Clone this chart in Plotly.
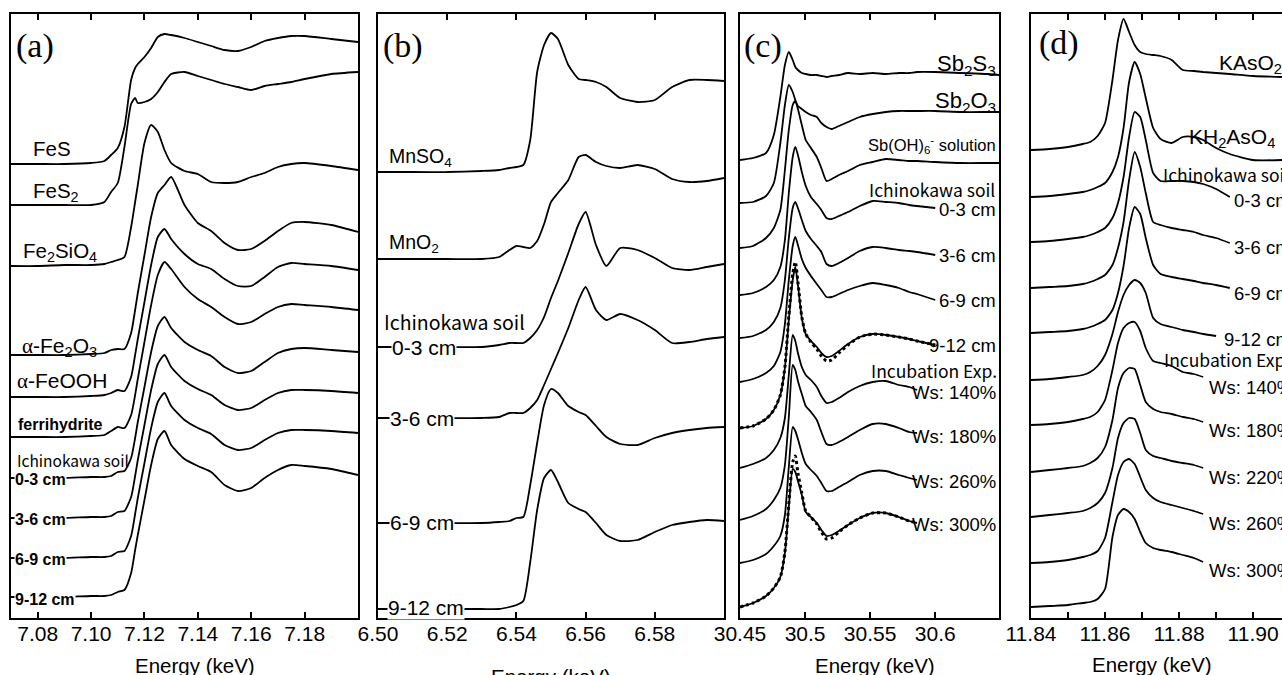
import plotly.graph_objects as go

# ---------------- data (normalized absorbance, offset for clarity) ----------------
# (a) Fe K-edge
a_energy = [7.070, 7.080, 7.090, 7.100, 7.105, 7.1075, 7.110, 7.1125, 7.115, 7.1165, 7.1175, 7.120, 7.1225, 7.125,
            7.1275, 7.130, 7.135, 7.140, 7.145, 7.150, 7.155, 7.160, 7.165, 7.170, 7.175, 7.180, 7.190, 7.200]
a_FeS = [4.54, 4.54, 4.54, 4.55, 4.57, 4.63, 4.70, 4.91, 5.38, 5.50, 5.54, 5.61, 5.70, 5.81, 5.84, 5.83, 5.80, 5.76,
         5.72, 5.68, 5.67, 5.71, 5.77, 5.80, 5.82, 5.82, 5.79, 5.76]
a_FeS2 = [4.13, 4.13, 4.13, 4.13, 4.16, 4.26, 4.35, 4.71, 5.14, 5.20, 5.15, 5.16, 5.19, 5.26, 5.36, 5.44, 5.46, 5.42,
          5.38, 5.34, 5.31, 5.28, 5.32, 5.34, 5.36, 5.39, 5.44, 5.46]
a_Fe2SiO4 = [3.52, 3.52, 3.53, 3.53, 3.54, 3.56, 3.58, 3.61, 3.91, 4.16, 4.33, 4.75, 4.93, 4.86, 4.68, 4.55, 4.47, 4.44,
             4.36, 4.35, 4.36, 4.41, 4.45, 4.51, 4.54, 4.55, 4.52, 4.48]
a_hematite = [2.63, 2.63, 2.63, 2.64, 2.65, 2.68, 2.69, 2.69, 2.85, 3.08, 3.25, 3.63, 4.01, 4.25, 4.33, 4.41, 4.13, 3.95,
              3.87, 3.75, 3.68, 3.69, 3.77, 3.87, 3.95, 3.96, 3.93, 3.86]
a_goethite = [2.21, 2.21, 2.21, 2.22, 2.23, 2.25, 2.28, 2.27, 2.41, 2.63, 2.79, 3.16, 3.53, 3.81, 3.89, 3.79, 3.64, 3.54,
              3.49, 3.39, 3.32, 3.32, 3.41, 3.51, 3.55, 3.54, 3.52, 3.48]
a_ferrihydrite = [1.81, 1.81, 1.81, 1.82, 1.83, 1.87, 1.91, 1.90, 2.03, 2.23, 2.39, 2.76, 3.13, 3.43, 3.56, 3.49, 3.31,
                  3.19, 3.11, 3.01, 2.94, 2.96, 3.04, 3.11, 3.14, 3.13, 3.11, 3.08]
a_soil_0_3 = [1.40, 1.40, 1.40, 1.41, 1.41, 1.42, 1.46, 1.47, 1.60, 1.80, 1.96, 2.31, 2.66, 2.92, 3.01, 2.90, 2.76, 2.68,
              2.62, 2.51, 2.45, 2.47, 2.56, 2.65, 2.69, 2.70, 2.68, 2.66]
a_soil_3_6 = [1.00, 1.00, 1.00, 1.01, 1.01, 1.02, 1.06, 1.07, 1.21, 1.42, 1.58, 1.93, 2.28, 2.54, 2.63, 2.51, 2.37, 2.29,
              2.23, 2.13, 2.08, 2.10, 2.18, 2.25, 2.28, 2.28, 2.27, 2.25]
a_soil_6_9 = [0.60, 0.60, 0.60, 0.61, 0.61, 0.62, 0.66, 0.67, 0.82, 1.04, 1.20, 1.55, 1.90, 2.16, 2.25, 2.12, 1.98, 1.90,
              1.84, 1.73, 1.68, 1.70, 1.78, 1.85, 1.88, 1.88, 1.87, 1.85]
a_soil_9_12 = [0.21, 0.21, 0.21, 0.22, 0.22, 0.23, 0.26, 0.28, 0.45, 0.68, 0.83, 1.18, 1.53, 1.79, 1.87, 1.73, 1.59, 1.52,
               1.46, 1.33, 1.27, 1.30, 1.40, 1.48, 1.53, 1.52, 1.49, 1.43]

# (b) Mn K-edge
b_energy = [6.500, 6.510, 6.520, 6.530, 6.535, 6.538, 6.540, 6.542, 6.544, 6.546, 6.548, 6.550, 6.552, 6.555, 6.558,
            6.560, 6.563, 6.566, 6.570, 6.575, 6.580, 6.585, 6.590, 6.595, 6.600]
b_MnSO4 = [4.46, 4.46, 4.46, 4.47, 4.48, 4.50, 4.51, 4.53, 4.78, 5.46, 5.73, 5.85, 5.79, 5.53, 5.39, 5.38, 5.36, 5.31,
           5.20, 5.16, 5.18, 5.31, 5.38, 5.38, 5.37]
b_MnO2 = [3.59, 3.59, 3.59, 3.59, 3.61, 3.68, 3.72, 3.71, 3.70, 3.77, 3.94, 4.16, 4.25, 4.38, 4.61, 4.63, 4.56, 4.52,
          4.50, 4.53, 4.49, 4.39, 4.36, 4.37, 4.40]
b_soil_0_3 = [2.71, 2.71, 2.71, 2.71, 2.73, 2.75, 2.75, 2.75, 2.80, 2.88, 3.01, 3.20, 3.37, 3.65, 3.94, 4.06, 3.73, 3.52,
              3.70, 3.68, 3.60, 3.50, 3.48, 3.51, 3.54]
b_soil_3_6 = [2.00, 2.00, 2.00, 2.00, 2.01, 2.05, 2.05, 2.05, 2.10, 2.18, 2.33, 2.49, 2.65, 2.90, 3.18, 3.31, 3.08, 2.98,
              3.04, 2.98, 2.88, 2.75, 2.76, 2.79, 2.81]
b_soil_6_9 = [0.95, 0.95, 0.95, 0.95, 0.96, 0.97, 1.00, 1.01, 1.33, 1.75, 2.13, 2.29, 2.25, 2.12, 2.06, 2.03, 1.92, 1.81,
              1.74, 1.73, 1.80, 1.85, 1.88, 1.90, 1.91]
b_soil_9_12 = [0.09, 0.09, 0.09, 0.09, 0.09, 0.11, 0.13, 0.17, 0.56, 1.08, 1.40, 1.48, 1.36, 1.15, 1.09, 1.06, 0.95, 0.83,
               0.77, 0.78, 0.86, 0.93, 0.96, 0.98, 0.97]

# (c) Sb K-edge
c_energy = [30.450, 30.460, 30.470, 30.476, 30.481, 30.4845, 30.4875, 30.4905, 30.4925, 30.4945, 30.4975, 30.5005,
            30.5045, 30.509, 30.5125, 30.5165, 30.5205, 30.526, 30.533, 30.542, 30.552, 30.562, 30.572, 30.580,
            30.586, 30.600, 30.620, 30.640, 30.649]
c_Sb2S3 = [4.58, 4.60, 4.65, 4.83, 5.21, 5.53, 5.66, 5.58, 5.51, 5.48, 5.45, 5.44, 5.43, 5.43, 5.42, 5.41, 5.42, 5.43,
           5.45, 5.44, 5.45, 5.44, 5.45, 5.45, 5.46, 5.46, 5.45, 5.44, 5.43]
c_Sb2O3 = [4.15, 4.16, 4.22, 4.35, 4.75, 5.13, 5.33, 5.26, 5.18, 5.12, 5.09, 5.06, 5.03, 5.01, 4.95, 4.91, 4.89, 4.92,
           4.96, 5.01, 5.04, 5.06, 5.07, 5.07, 5.07, 5.07, 5.06, 5.06, 5.06]
c_SbOH6 = [3.70, 3.72, 3.80, 3.90, 4.08, 4.48, 4.88, 5.13, 5.17, 5.09, 4.93, 4.78, 4.70, 4.61, 4.50, 4.37, 4.39, 4.43,
           4.47, 4.53, 4.56, 4.59, 4.58, 4.57, 4.57, 4.56, 4.55, 4.55, 4.55]
c_soil_0_3 = [3.23, 3.25, 3.31, 3.38, 3.51, 3.78, 4.25, 4.61, 4.71, 4.63, 4.46, 4.32, 4.21, 4.14, 4.08, 4.00, 3.99, 4.02,
              4.06, 4.12, 4.17, 4.16, 4.15, 4.13, 4.12, 4.10]
c_soil_3_6 = [2.80, 2.82, 2.88, 2.96, 3.10, 3.38, 3.80, 4.10, 4.16, 4.10, 3.98, 3.87, 3.79, 3.72, 3.66, 3.54, 3.52, 3.55,
              3.60, 3.67, 3.71, 3.70, 3.68, 3.67, 3.66, 3.63]
c_soil_6_9 = [2.36, 2.39, 2.45, 2.52, 2.66, 2.94, 3.38, 3.72, 3.81, 3.73, 3.59, 3.50, 3.42, 3.34, 3.28, 3.21, 3.21, 3.24,
              3.28, 3.32, 3.35, 3.33, 3.30, 3.26, 3.24, 3.18]
c_soil_9_12 = [1.90, 1.92, 1.99, 2.08, 2.23, 2.50, 2.98, 3.38, 3.51, 3.33, 3.00, 2.84, 2.77, 2.71, 2.65, 2.61, 2.62, 2.67,
               2.74, 2.81, 2.84, 2.83, 2.81, 2.79, 2.77, 2.73]
c_fit_9_12 = [1.90, 1.92, 1.99, 2.08, 2.23, 2.51, 3.02, 3.44, 3.56, 3.36, 3.01, 2.84, 2.76, 2.69, 2.62, 2.57, 2.58, 2.65,
              2.73, 2.81, 2.84, 2.83, 2.81, 2.79, 2.77, 2.73]
c_ws140 = [1.50, 1.54, 1.60, 1.68, 1.80, 2.00, 2.43, 2.83, 2.77, 2.65, 2.51, 2.43, 2.38, 2.31, 2.22, 2.15, 2.16, 2.20,
           2.26, 2.32, 2.36, 2.37, 2.33, 2.31, 2.28]
c_ws180 = [0.98, 1.02, 1.09, 1.18, 1.30, 1.53, 2.01, 2.53, 2.48, 2.37, 2.24, 2.12, 2.06, 1.98, 1.86, 1.74, 1.73, 1.76,
           1.81, 1.88, 1.94, 1.94, 1.90, 1.86, 1.85]
c_ws260 = [0.55, 0.58, 0.64, 0.72, 0.82, 1.03, 1.51, 1.91, 1.87, 1.79, 1.65, 1.54, 1.48, 1.42, 1.35, 1.27, 1.27, 1.31,
           1.36, 1.43, 1.47, 1.47, 1.43, 1.40, 1.38]
c_ws300 = [0.11, 0.15, 0.22, 0.30, 0.41, 0.65, 1.11, 1.49, 1.46, 1.37, 1.23, 1.06, 1.01, 0.95, 0.88, 0.82, 0.83, 0.87,
           0.93, 1.00, 1.05, 1.05, 1.01, 0.97, 0.95]
c_fit_ws300 = [0.11, 0.15, 0.22, 0.30, 0.41, 0.66, 1.14, 1.56, 1.62, 1.45, 1.25, 1.07, 1.01, 0.94, 0.86, 0.79, 0.80,
               0.86, 0.93, 1.00, 1.05, 1.05, 1.01, 0.97, 0.95]

# (d) As K-edge
d_energy = [11.840, 11.845, 11.850, 11.854, 11.856, 11.858, 11.860, 11.862, 11.8635, 11.865, 11.8665, 11.868, 11.8695,
            11.871, 11.873, 11.875, 11.878, 11.881, 11.884, 11.8865, 11.890, 11.8937, 11.900, 11.9078]
d_KAsO2 = [4.68, 4.69, 4.71, 4.74, 4.76, 4.82, 4.95, 5.38, 5.78, 5.99, 5.86, 5.73, 5.66, 5.64, 5.63, 5.62, 5.58, 5.48,
           5.47, 5.46, 5.45, 5.44, 5.42, 5.41]
d_KH2AsO4 = [4.21, 4.22, 4.24, 4.26, 4.28, 4.31, 4.35, 4.46, 4.61, 4.90, 5.36, 5.56, 5.44, 5.20, 4.90, 4.79, 4.75, 4.81,
             4.81, 4.78, 4.70, 4.64, 4.58, 4.58]
d_soil_0_3 = [3.76, 3.77, 3.79, 3.81, 3.83, 3.86, 3.90, 4.00, 4.15, 4.41, 4.81, 5.06, 5.01, 4.78, 4.45, 4.37, 4.37, 4.37,
              4.36, 4.34, 4.29, 4.21]
d_soil_3_6 = [3.30, 3.31, 3.32, 3.34, 3.36, 3.39, 3.43, 3.53, 3.70, 3.96, 4.38, 4.66, 4.51, 4.25, 3.96, 3.93, 3.90, 3.88,
              3.86, 3.83, 3.80, 3.75]
d_soil_6_9 = [2.85, 2.86, 2.87, 2.89, 2.91, 2.94, 2.98, 3.08, 3.25, 3.52, 3.90, 4.11, 4.04, 3.80, 3.53, 3.44, 3.41, 3.39,
              3.37, 3.35, 3.33, 3.30]
d_soil_9_12 = [2.38, 2.39, 2.41, 2.43, 2.46, 2.52, 2.63, 2.84, 3.06, 3.23, 3.33, 3.38, 3.35, 3.25, 3.00, 2.94, 2.91, 2.88,
               2.86, 2.84, 2.82]
d_ws140 = [1.93, 1.94, 1.96, 1.99, 2.01, 2.06, 2.18, 2.48, 2.75, 2.90, 2.95, 2.96, 2.87, 2.70, 2.57, 2.55, 2.52, 2.46,
           2.44, 2.41]
d_ws180 = [1.46, 1.48, 1.50, 1.52, 1.55, 1.60, 1.71, 1.98, 2.30, 2.45, 2.50, 2.49, 2.33, 2.16, 2.09, 2.06, 2.04, 2.01,
           1.99, 1.96]
d_ws220 = [1.01, 1.03, 1.05, 1.07, 1.10, 1.15, 1.25, 1.50, 1.80, 1.95, 2.00, 1.99, 1.85, 1.68, 1.62, 1.60, 1.57, 1.55,
           1.53, 1.50]
d_ws260 = [0.55, 0.56, 0.58, 0.61, 0.63, 0.67, 0.80, 1.16, 1.43, 1.56, 1.59, 1.54, 1.41, 1.28, 1.20, 1.16, 1.13, 1.10,
           1.07, 1.04]
d_ws300 = [0.11, 0.12, 0.13, 0.15, 0.16, 0.19, 0.29, 0.81, 1.03, 1.09, 1.06, 0.99, 0.86, 0.75, 0.70, 0.68, 0.66, 0.63,
           0.60, 0.56]

# tick labels
a_ticks = [7.08, 7.10, 7.12, 7.14, 7.16, 7.18]
a_ticklabels = ["7.08", "7.10", "7.12", "7.14", "7.16", "7.18"]
b_ticks = [6.50, 6.52, 6.54, 6.56, 6.58]
b_ticklabels = ["6.50", "6.52", "6.54", "6.56", "6.58"]
c_ticks = [30.45, 30.50, 30.55, 30.60]
c_ticklabels = ["30.45", "30.5", "30.55", "30.6"]
d_ticks = [11.84, 11.85, 11.86, 11.87, 11.88, 11.89, 11.90]
d_ticklabels = ["11.84", " ", "11.86", " ", "11.88", " ", "11.90"]

# ---------------- figure ----------------
W, H = 1282, 675
MT, MB = 14, 57
SANS = "Liberation Sans, Arial, Helvetica, sans-serif"
SERIF = "Liberation Serif, Times New Roman, serif"
GOTH = "Noto Sans CJK JP, Liberation Sans, sans-serif"


def px(x):
    return x / W


def py(y):
    return (H - MB - y) / (H - MT - MB)


fig = go.Figure()

panels = [
    ("x", "y", a_energy, [a_FeS, a_FeS2, a_Fe2SiO4, a_hematite, a_goethite, a_ferrihydrite,
                          a_soil_0_3, a_soil_3_6, a_soil_6_9, a_soil_9_12], []),
    ("x2", "y2", b_energy, [b_MnSO4, b_MnO2, b_soil_0_3, b_soil_3_6, b_soil_6_9, b_soil_9_12], []),
    ("x3", "y3", c_energy, [c_Sb2S3, c_Sb2O3, c_SbOH6, c_soil_0_3, c_soil_3_6, c_soil_6_9, c_soil_9_12,
                            c_ws140, c_ws180, c_ws260, c_ws300], [c_fit_9_12, c_fit_ws300]),
    ("x4", "y4", d_energy, [d_KAsO2, d_KH2AsO4, d_soil_0_3, d_soil_3_6, d_soil_6_9, d_soil_9_12,
                            d_ws140, d_ws180, d_ws220, d_ws260, d_ws300], []),
]
for xa, ya, en, curves, fits in panels:
    for cv in fits:
        fig.add_trace(go.Scatter(x=en[:len(cv)], y=cv, xaxis=xa, yaxis=ya, mode="lines",
                                 line=dict(color="black", width=3.0, dash="dot", shape="spline", smoothing=0.6),
                                 hoverinfo="skip"))
    for cv in curves:
        fig.add_trace(go.Scatter(x=en[:len(cv)], y=cv, xaxis=xa, yaxis=ya, mode="lines",
                                 line=dict(color="black", width=1.8, shape="spline", smoothing=0.6),
                                 hoverinfo="skip"))

doms = [[11 / W, 358 / W], [378 / W, 724 / W], [740 / W, 999 / W], [1031 / W, 1.0]]
ranges = [[7.07, 7.20], [6.50, 6.60], [30.45, 30.649], [11.84, 11.9078]]
ticks = [(a_ticks, a_ticklabels), (b_ticks, b_ticklabels), (c_ticks, c_ticklabels), (d_ticks, d_ticklabels)]
for i in range(4):
    sfx = "" if i == 0 else str(i + 1)
    fig.layout["xaxis" + sfx] = dict(
        domain=doms[i], range=ranges[i], showline=True, linecolor="black", linewidth=1.8,
        mirror="ticks", ticks="inside", ticklen=6, tickwidth=1.5, tickcolor="black",
        tickvals=ticks[i][0], ticktext=ticks[i][1], showgrid=False, zeroline=False, automargin=False,
        ticklabelstandoff=-4,
        tickfont=dict(family=SANS, size=21, color="black"), anchor="y" + sfx)
    fig.layout["yaxis" + sfx] = dict(
        domain=[0, 1], range=[0, 6.04], showline=True, linecolor="black", linewidth=1.8,
        mirror=(i < 3), ticks="", showticklabels=False, showgrid=False, zeroline=False,
        automargin=False, anchor="x" + sfx)


def label(text, x, y, size=20, family=SANS, xanchor="left", bg=None, weight="normal"):
    fig.add_annotation(text=text, x=px(x), y=py(y), xref="paper", yref="paper",
                       xanchor=xanchor, yanchor="middle", showarrow=False,
                       font=dict(size=size, family=family, color="black", weight=weight),
                       bgcolor=bg, borderpad=0)


ALPHA = '<span style="font-family:Liberation Serif">α</span>'
# panel a
label("(a)", 15, 46, 34, SERIF)
label("FeS", 32, 148, 20.5)
label("FeS<sub>2</sub>", 32, 192, 20.5)
label("Fe<sub>2</sub>SiO<sub>4</sub>", 22, 252, 20.5)
label(ALPHA + "-Fe<sub>2</sub>O<sub>3</sub>", 21, 347, 21)
label(ALPHA + "-FeOOH", 16, 381, 21)
label("ferrihydrite", 17, 424, 16, weight="bold")
label("Ichinokawa soil", 16, 460, 15.5, GOTH)
for t, yy in [("0-3 cm", 479), ("3-6 cm", 519), ("6-9 cm", 559), ("9-12 cm", 599)]:
    label(t, 14, yy, 16, bg="white", weight="bold")
# panel b
label("(b)", 382, 46, 34, SERIF)
label("MnSO<sub>4</sub>", 388, 157, 19.5)
label("MnO<sub>2</sub>", 388, 244, 19.5)
label("Ichinokawa soil", 383, 321, 19.5, GOTH)
for t, xx, yy in [("0-3 cm", 391, 347), ("3-6 cm", 389, 418), ("6-9 cm", 389, 522), ("9-12 cm", 387, 607)]:
    label(t, xx, yy, 21, bg="white")
# panel c
label("(c)", 743, 46, 34, SERIF)
label("Sb<sub>2</sub>S<sub>3</sub>", 997, 65, 22, xanchor="right")
label("Sb<sub>2</sub>O<sub>3</sub>", 997, 102, 22, xanchor="right")
label("Sb(OH)<sub>6</sub><sup>-</sup> solution", 997, 145, 16.5, xanchor="right")
label("Ichinokawa soil", 996, 189, 17.5, GOTH, xanchor="right")
for t, yy in [("0-3 cm", 209), ("3-6 cm", 255), ("6-9 cm", 300), ("9-12 cm", 346)]:
    label(t, 997, yy, 18.5, xanchor="right")
label("Incubation Exp.", 998, 370, 17.5, GOTH, xanchor="right")
for t, yy in [("Ws: 140%", 392), ("Ws: 180%", 436), ("Ws: 260%", 481), ("Ws: 300%", 524)]:
    label(t, 997, yy, 18.5, xanchor="right")
# panel d
label("(d)", 1038, 43, 34, SERIF)
label("KAsO<sub>2</sub>", 1218, 64, 21)
label("KH<sub>2</sub>AsO<sub>4</sub>", 1188, 138, 21)
label("Ichinokawa soil", 1162, 174, 17.5, GOTH)
for t, xx, yy in [("0-3 cm", 1233, 200), ("3-6 cm", 1233, 247), ("6-9 cm", 1233, 293), ("9-12 cm", 1223, 339)]:
    label(t, xx, yy, 18.5)
label("Incubation Exp.", 1163, 359, 17.5, GOTH)
for t, yy in [("Ws: 140%", 388), ("Ws: 180%", 430), ("Ws: 220%", 477), ("Ws: 260%", 523), ("Ws: 300%", 570)]:
    label(t, 1208, yy, 18.5)

# axis titles
for xx, yy in [(195, 665), (551, 676), (875, 665), (1152, 664)]:
    label("Energy (keV)", xx, yy, 20.5, xanchor="center")

fig.update_layout(width=W, height=H, margin=dict(l=0, r=0, t=MT, b=MB, pad=0, autoexpand=False),
                  plot_bgcolor="white", paper_bgcolor="white", showlegend=False)
fig.write_html("out.html", config={"displayModeBar": False},
               post_script="document.body.style.margin='0px';")
